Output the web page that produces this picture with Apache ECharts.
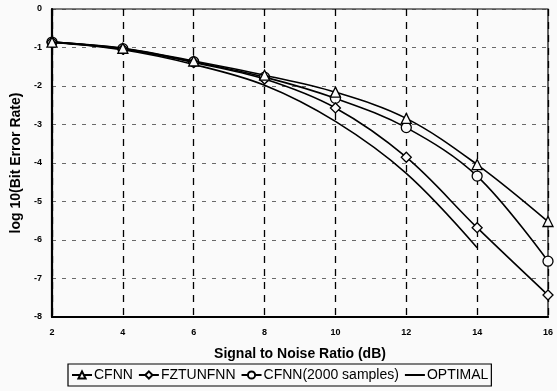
<!DOCTYPE html>
<html>
<head>
<meta charset="utf-8">
<script src="https://cdn.jsdelivr.net/npm/echarts@6/dist/echarts.min.js"></script>
<style>
html,body{margin:0;padding:0;background:#fafafa;}
#c{width:557px;height:391px;}
</style>
</head>
<body>
<div id="c"></div>
<script>
var snr = [2, 4, 6, 8, 10, 12, 14, 16];
var snrOptimal = [2, 4, 6, 8, 10, 12, 14];
var cfnn = [-0.86, -1.02, -1.35, -1.72, -2.16, -2.84, -4.04, -5.52];
var fztunfnn = [-0.86, -1.04, -1.39, -1.82, -2.57, -3.85, -5.68, -7.43];
var cfnn2000 = [-0.86, -1.03, -1.37, -1.77, -2.32, -3.08, -4.34, -6.55];
var optimal = [-0.86, -1.06, -1.44, -1.98, -2.92, -4.27, -6.2];
var xTicks = ['2', '4', '6', '8', '10', '12', '14', '16'];
var seriesNames = ['CFNN', 'FZTUNFNN', 'CFNN(2000 samples)', 'OPTIMAL'];

function pairs(xs, ys) { return ys.map(function (y, i) { return [xs[i], y]; }); }

var font = 'Liberation Sans, Arial, sans-serif';
var markerStyle = { color: '#fafafa', borderColor: '#000', borderWidth: 1.3 };
var lineStyle = { color: '#000', width: 1.6 };

var chart = echarts.init(document.getElementById('c'));
chart.setOption({
  backgroundColor: '#fafafa',
  animation: false,
  grid: { left: 52, right: 9, top: 9, bottom: 74, show: true, borderColor: '#000', borderWidth: 1.2, backgroundColor: 'transparent' },
  xAxis: {
    type: 'value', min: 2, max: 16, interval: 2,
    name: 'Signal to Noise Ratio (dB)', nameLocation: 'middle', nameGap: 30,
    nameTextStyle: { fontFamily: font, fontWeight: 'bold', fontSize: 14, color: '#000' },
    axisLine: { show: true, onZero: false, lineStyle: { color: '#000', width: 2.2 } },
    axisTick: { show: false },
    axisLabel: { fontFamily: font, fontWeight: 'bold', fontSize: 9, color: '#000', margin: 11,
      formatter: function (v) { return xTicks[snr.indexOf(v)] || ''; } },
    splitLine: { show: true, lineStyle: { color: '#000', width: 1.3, type: [7, 6] } }
  },
  yAxis: {
    type: 'value', min: -8, max: 0, interval: 1,
    name: 'log 10(Bit Error Rate)', nameLocation: 'middle', nameGap: 21,
    nameTextStyle: { fontFamily: font, fontWeight: 'bold', fontSize: 14, color: '#000' },
    axisLine: { show: true, onZero: false, lineStyle: { color: '#000', width: 2.2 } },
    axisTick: { show: false },
    axisLabel: { fontFamily: font, fontWeight: 'bold', fontSize: 9, color: '#000', margin: 10 },
    splitLine: { show: true, lineStyle: { color: '#444', width: 0.8, type: [4, 6] } }
  },
  legend: {
    left: 68, top: 364, width: 540,
    data: [seriesNames[0], seriesNames[1], seriesNames[2],
      { name: seriesNames[3], itemStyle: { opacity: 0 } }],
    itemWidth: 20, itemHeight: 9, itemGap: 5,
    padding: [4, 3, 4, 3],
    borderColor: '#000', borderWidth: 1.2,
    textStyle: { fontFamily: font, fontSize: 14, color: '#000', padding: [0, 0, 0, -3] }
  },
  series: [
    { name: seriesNames[0], type: 'line', smooth: 0.35, data: pairs(snr, cfnn),
      symbol: 'triangle', symbolSize: 10, itemStyle: markerStyle, lineStyle: lineStyle, z: 5 },
    { name: seriesNames[1], type: 'line', smooth: 0.35, data: pairs(snr, fztunfnn),
      symbol: 'diamond', symbolSize: 10, itemStyle: markerStyle, lineStyle: lineStyle, z: 4 },
    { name: seriesNames[2], type: 'line', smooth: 0.35, data: pairs(snr, cfnn2000),
      symbol: 'circle', symbolSize: 10, itemStyle: markerStyle, lineStyle: lineStyle, z: 3 },
    { name: seriesNames[3], type: 'line', smooth: 0.35, data: pairs(snrOptimal, optimal),
      symbol: 'none', itemStyle: { color: '#000' }, lineStyle: lineStyle, z: 2 }
  ]
});
</script>
</body>
</html>
